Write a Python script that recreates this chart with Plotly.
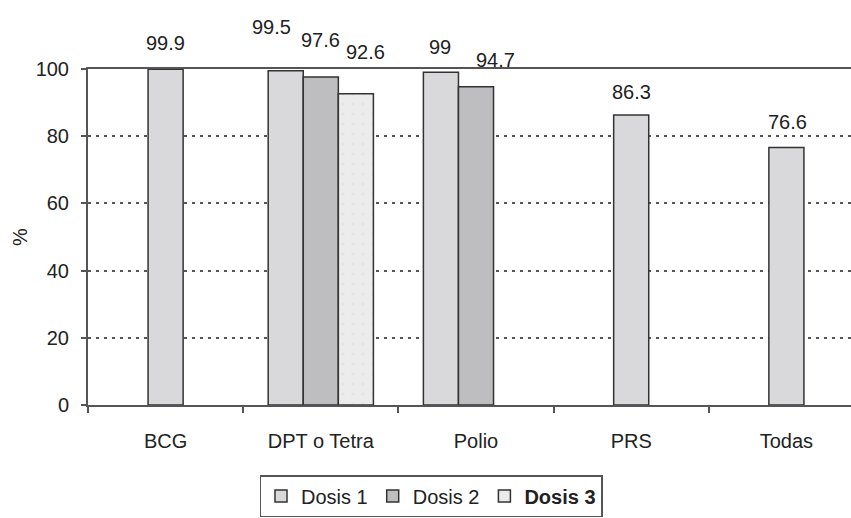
import plotly.graph_objects as go

categories = ["BCG", "DPT o Tetra", "Polio", "PRS", "Todas"]
series_names = ["Dosis 1", "Dosis 2", "<b>Dosis 3</b>"]
dosis1 = [99.9, 99.5, 99, 86.3, 76.6]
dosis2 = [None, 97.6, 94.7, None, None]
dosis3 = [None, 92.6, None, None, None]
y_ticks = [0, 20, 40, 60, 80, 100]

# style / layout helpers
W = 0.226  # bar width in category units
offsets1 = [-0.5 * W, -1.5 * W, -1.5 * W, -0.5 * W, -0.5 * W]
offsets2 = [0, -0.5 * W, -0.5 * W, 0, 0]
offsets3 = [0, 0.5 * W, 0, 0, 0]
label_yshift1 = [26, 44, 25, 23, 26]
label_xshift1 = [0, -14, -1, 0, 1]
label_yshift2 = [0, 37, 27, 0, 0]
label_xshift2 = [0, 0, 19, 0, 0]
label_yshift3 = [0, 42, 0, 0, 0]
label_xshift3 = [0, 10, 0, 0, 0]

colors = ["#d9d9db", "#bebec0", "#ececed"]
FONT = "Liberation Sans, Arial, sans-serif"

fig = go.Figure()
series = [
    (dosis1, offsets1, label_yshift1, label_xshift1),
    (dosis2, offsets2, label_yshift2, label_xshift2),
    (dosis3, offsets3, label_yshift3, label_xshift3),
]
for i, (vals, offs, ys, xs) in enumerate(series):
    marker = dict(color=colors[i], line=dict(color="#333333", width=1.5))
    if i == 2:
        marker["pattern"] = dict(shape=".", fgcolor="#dcdcdc", bgcolor=colors[i], size=10, solidity=0.08)
    fig.add_trace(go.Bar(
        x=categories, y=vals, name=series_names[i],
        width=W, offset=offs, marker=marker,
    ))
    for j, v in enumerate(vals):
        if v is None:
            continue
        fig.add_annotation(
            x=j + offs[j] + W / 2, y=v, xref="x", yref="y",
            text=f"{v:g}", showarrow=False,
            yanchor="middle", xanchor="center",
            yshift=ys[j], xshift=xs[j],
            font=dict(size=20, color="#222222", family=FONT),
        )

plot_left = 88
plot_width = 851 - plot_left
cat_px = 155.2
fig.update_layout(
    width=851, height=518,
    margin=dict(l=plot_left, r=0, t=69, b=113),
    plot_bgcolor="white", paper_bgcolor="white",
    barmode="overlay",
    font=dict(family=FONT, size=20, color="#222222"),
    showlegend=True,
    legend=dict(
        orientation="h", xref="container", yref="container",
        x=431 / 851, xanchor="center", y=1 - 475 / 518, yanchor="top",
        bordercolor="#555555", borderwidth=1.5, bgcolor="white",
        font=dict(size=20, family=FONT, color="#222222"),
        itemwidth=30, traceorder="normal",
    ),
    xaxis=dict(
        type="category", range=[-0.5, -0.5 + plot_width / cat_px],
        showline=True, linecolor="#555555", linewidth=2, mirror=True,
        ticks="outside", tickson="boundaries", ticklen=6, tickcolor="#555555", tickwidth=1.5,
        showgrid=False, ticklabelstandoff=17,
        tickfont=dict(size=20, family=FONT, color="#222222"),
    ),
    yaxis=dict(
        range=[0, 100], tickvals=y_ticks,
        showline=True, linecolor="#555555", linewidth=2,
        ticks="outside", ticklen=5, tickcolor="#555555", tickwidth=1.5,
        showgrid=True, gridcolor="#555555", gridwidth=1.5, griddash="3px,5px",
        zeroline=False, ticklabelstandoff=8,
        tickfont=dict(size=20, family=FONT, color="#222222"),
        title=dict(text="%", standoff=3, font=dict(size=20, family=FONT, color="#222222")),
    ),
)

fig.write_html("out.html")
